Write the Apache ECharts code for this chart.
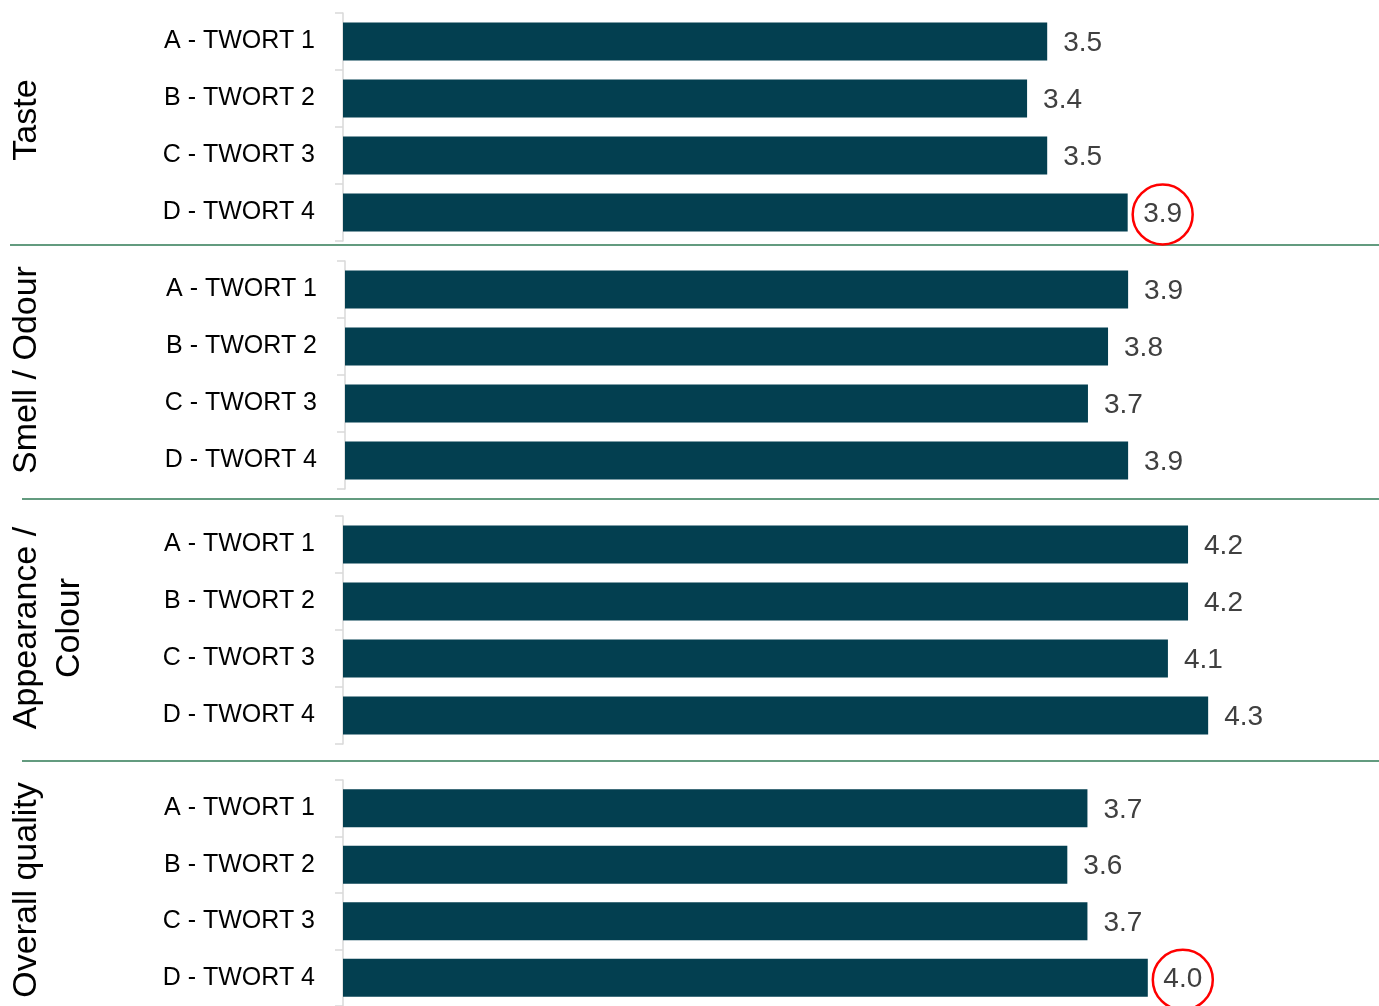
<!DOCTYPE html>
<html>
<head>
<meta charset="utf-8">
<script src="https://cdn.jsdelivr.net/npm/echarts@6/dist/echarts.min.js"></script>
<style>
html,body{margin:0;padding:0;background:#fff;}
#chart{width:1379px;height:1006px;}
</style>
</head>
<body>
<div id="chart"></div>
<script>
// ---- data ----
const groups = ["Taste", "Smell / Odour", "Appearance /\nColour", "Overall quality"];
const categories = ["A - TWORT 1", "B - TWORT 2", "C - TWORT 3", "D - TWORT 4"];
const tasteValues = [3.5, 3.4, 3.5, 3.9];
const smellValues = [3.9, 3.8, 3.7, 3.9];
const appearanceValues = [4.2, 4.2, 4.1, 4.3];
const overallValues = [3.7, 3.6, 3.7, 4.0];
const circled = [[false,false,false,true],[false,false,false,false],[false,false,false,false],[false,false,false,true]];
const allValues = [tasteValues, smellValues, appearanceValues, overallValues];

// ---- layout ----
const panelTops = [13, 261, 516, 780];
const panelLefts = [343, 345, 343, 343];
const titleY = [120, 370, 628, 890];
const titleX = [27, 27, 48, 27];
const panelH = 228;
const font = "'Liberation Sans', Arial, sans-serif";
const barColor = "#033f50";

const chart = echarts.init(document.getElementById('chart'), null, {renderer:'canvas'});

const grids = [], xAxes = [], yAxes = [], series = [], graphics = [];
allValues.forEach((vals, i) => {
  grids.push({left: panelLefts[i], top: panelTops[i], width: 1006 - (panelLefts[i]-343), height: panelH, containLabel:false});
  xAxes.push({type:'value', gridIndex:i, min:0, max:5, show:false});
  yAxes.push({
    type:'category', gridIndex:i, data:categories, inverse:true,
    axisLine:{show:true, lineStyle:{color:'#d9d9d9', width:1.5}},
    axisTick:{show:true, length:8, lineStyle:{color:'#d9d9d9', width:1.5}},
    axisLabel:{color:'#000', fontSize:25, fontFamily:font, margin:28, padding:[4,0,0,0]},
    splitLine:{show:false}
  });
  series.push({
    type:'bar', xAxisIndex:i, yAxisIndex:i, barWidth:38,
    itemStyle:{color:barColor},
    silent:true,
    label:{show:true, position:'right', distance:16, color:'#404040', fontSize:28, fontFamily:font,
      offset:[0,2], formatter: p => p.value.toFixed(1)},
    data: vals.map((v, j) => circled[i][j] ? {
      value:v,
      label:{distance:4, width:60, height:60, borderRadius:31, borderColor:'#ff0000', borderWidth:2.5,
        align:'center', verticalAlign:'middle', lineHeight:60, padding:[0,0,0,0], offset:[31,2]}
    } : v)
  });
  graphics.push({
    type:'text', x: titleX[i], y: titleY[i], rotation: Math.PI/2,
    style:{text: groups[i], fill:'#000', font:'34px ' + font, textAlign:'center', textVerticalAlign:'middle', lineHeight:43}
  });
});

// separators
[[10,245],[22,499],[22,761]].forEach(([x,y]) => {
  graphics.push({type:'line', shape:{x1:x, y1:y, x2:1379, y2:y}, style:{stroke:'#2f7a55', lineWidth:1.5}});
});

chart.setOption({
  animation:false,
  backgroundColor:'#fff',
  grid:grids, xAxis:xAxes, yAxis:yAxes, series:series,
  graphic:graphics
});
</script>
</body>
</html>
